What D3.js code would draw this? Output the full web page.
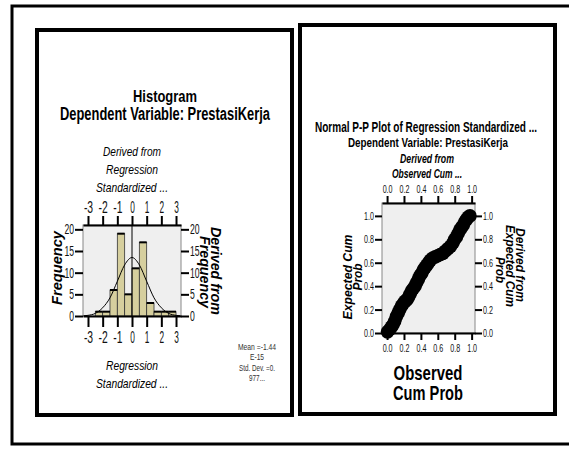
<!DOCTYPE html>
<html>
<head>
<meta charset="utf-8">
<script src="https://cdn.jsdelivr.net/npm/d3@7"></script>
<style>
  body { margin: 0; background: #fff; }
  .narrow { font-family: "Liberation Sans Narrow", "Liberation Sans", Arial, sans-serif; }
  .wide { font-family: "Liberation Sans", Arial, sans-serif; }
</style>
</head>
<body>
<div class="canvas"></div>
<script>
// histogram data (bin start, width 0.5)
const histBins = [-2.5, -2, -1.5, -1, -0.5, 0, 0.5, 1, 1.5, 2, 2.5];
const histCounts = [1, 1, 6, 19, 5, 11, 17, 3, 1, 1, 1];
// normal curve
const curveX = [-3.3, -3, -2.5, -2, -1.5, -1, -0.5, 0, 0.5, 1, 1.5, 2, 2.5, 3, 3.3];
const curveY = [0.05, 0.15, 0.6, 1.9, 4.2, 8, 11.8, 13.5, 11.8, 8, 4.2, 1.9, 0.6, 0.15, 0.05];
const histXTicks = [-3, -2, -1, 0, 1, 2, 3];
const histYTicks = [0, 5, 10, 15, 20];
const statLines = ['Mean =-1.44', 'E-15', 'Std. Dev. =0.', '977...'];
const statWidths = [38, 14, 36, 16];

// P-P plot data
const ppObserved = [0.005, 0.03, 0.05, 0.07, 0.09, 0.11, 0.13, 0.15, 0.17, 0.19, 0.21, 0.23, 0.25, 0.27, 0.29,
  0.31, 0.33, 0.35, 0.37, 0.39, 0.41, 0.43, 0.45, 0.47, 0.49, 0.51, 0.54, 0.57, 0.60, 0.63, 0.66,
  0.69, 0.72, 0.75, 0.78, 0.80, 0.82, 0.84, 0.86, 0.88, 0.90, 0.92, 0.94, 0.96, 0.98];
const ppExpected = [0.01, 0.03, 0.05, 0.07, 0.10, 0.14, 0.17, 0.20, 0.23, 0.25, 0.27, 0.28, 0.30, 0.33, 0.36,
  0.38, 0.40, 0.43, 0.46, 0.49, 0.51, 0.54, 0.56, 0.58, 0.60, 0.62, 0.64, 0.65, 0.66, 0.67, 0.68,
  0.70, 0.72, 0.74, 0.77, 0.80, 0.82, 0.85, 0.88, 0.90, 0.92, 0.95, 0.97, 0.99, 1.00];
const ppTicks = [0, 0.2, 0.4, 0.6, 0.8, 1.0];

const svg = d3.select('.canvas')
  .append('svg')
    .attr('width', 569)
    .attr('height', 449);

// frames
svg.append('rect')
  .attr('x', 12).attr('y', 6).attr('width', 600).attr('height', 438)
  .attr('fill', 'none').attr('stroke', '#000').attr('stroke-width', 3);
svg.append('rect')
  .attr('x', 37).attr('y', 30).attr('width', 255).attr('height', 385)
  .attr('fill', 'none').attr('stroke', '#000').attr('stroke-width', 4);
svg.append('rect')
  .attr('x', 300).attr('y', 25).attr('width', 255).attr('height', 389)
  .attr('fill', 'none').attr('stroke', '#000').attr('stroke-width', 4);

// tick labels squeezed to look like the condensed SPSS font
function styleAxis(g, size, charW) {
  g.selectAll('.tick line').attr('stroke', '#000').attr('stroke-width', 2);
  g.selectAll('.tick text')
    .attr('class', 'narrow')
    .attr('fill', '#111')
    .style('font-size', size + 'px')
    .attr('textLength', function() { return this.textContent.length * charW; })
    .attr('lengthAdjust', 'spacingAndGlyphs');
}

function addText(x, y, str, opts) {
  const t = svg.append('text')
    .attr('x', x).attr('y', y)
    .attr('text-anchor', opts.anchor || 'middle')
    .attr('class', opts.cls || 'narrow')
    .style('font-size', opts.size + 'px')
    .style('font-weight', opts.bold ? 'bold' : 'normal')
    .style('font-style', opts.italic ? 'italic' : 'normal')
    .attr('fill', opts.fill || '#000')
    .text(str);
  if (opts.len) t.attr('textLength', opts.len).attr('lengthAdjust', 'spacingAndGlyphs');
  if (opts.rotate) t.attr('transform', `rotate(${opts.rotate}, ${x}, ${y})`).attr('dy', '0.35em');
  return t;
}

const intFmt = d => String(d);   // plain hyphen minus like the original

// ---------- histogram ----------
const hx = d3.scaleLinear().domain([-3.34, 3.34]).range([83, 181]);
const hy = d3.scaleLinear().domain([0, 21]).range([316, 225]);

svg.append('rect')
  .attr('x', hx.range()[0]).attr('y', hy.range()[1])
  .attr('width', hx.range()[1] - hx.range()[0]).attr('height', hy.range()[0] - hy.range()[1])
  .attr('fill', '#efefef').attr('stroke', '#888').attr('stroke-width', 1);

svg.selectAll('rect.bar')
  .data(histBins)
  .enter()
  .append('rect')
    .attr('class', 'bar')
    .attr('x', d => hx(d))
    .attr('y', (d, i) => hy(histCounts[i]))
    .attr('width', d => hx(d + 0.5) - hx(d))
    .attr('height', (d, i) => hy(0) - hy(histCounts[i]))
    .attr('fill', '#d6cf9e')
    .attr('stroke', '#333')
    .attr('stroke-width', 0.8);

svg.selectAll('line.bartop')
  .data(histBins)
  .enter()
  .append('line')
    .attr('x1', d => hx(d)).attr('x2', d => hx(d + 0.5))
    .attr('y1', (d, i) => hy(histCounts[i])).attr('y2', (d, i) => hy(histCounts[i]))
    .attr('stroke', '#000').attr('stroke-width', 2);

// mean line
svg.append('line')
  .attr('x1', hx(0)).attr('x2', hx(0))
  .attr('y1', hy.range()[1]).attr('y2', hy(0))
  .attr('stroke', '#000').attr('stroke-width', 1);

const curve = d3.line()
  .x((d, i) => hx(d))
  .y((d, i) => hy(curveY[i]))
  .curve(d3.curveMonotoneX);
svg.append('path')
  .attr('d', curve(curveX))
  .attr('fill', 'none').attr('stroke', '#000').attr('stroke-width', 1);

const hxBottom = svg.append('g').attr('transform', `translate(0, ${hy(0)})`)
  .call(d3.axisBottom(hx).tickValues(histXTicks).tickSize(11).tickSizeOuter(0).tickPadding(4).tickFormat(intFmt));
hxBottom.select('.domain').attr('stroke', '#000').attr('stroke-width', 2);
styleAxis(hxBottom, 16.5, 4.6);

const hxTop = svg.append('g').attr('transform', `translate(0, ${hy.range()[1]})`)
  .call(d3.axisTop(hx).tickValues(histXTicks).tickSize(9).tickSizeOuter(0).tickPadding(3).tickFormat(intFmt));
hxTop.select('.domain').attr('stroke', '#000').attr('stroke-width', 2);
styleAxis(hxTop, 16, 4.6);

const hyLeft = svg.append('g').attr('transform', `translate(${hx.range()[0]}, 0)`)
  .call(d3.axisLeft(hy).tickValues(histYTicks).tickSize(8).tickSizeOuter(0).tickPadding(1).tickFormat(intFmt));
hyLeft.select('.domain').remove();
styleAxis(hyLeft, 14.5, 4.8);

const hyRight = svg.append('g').attr('transform', `translate(${hx.range()[1]}, 0)`)
  .call(d3.axisRight(hy).tickValues(histYTicks).tickSize(8).tickSizeOuter(0).tickPadding(1).tickFormat(intFmt));
hyRight.select('.domain').remove();
styleAxis(hyRight, 14.5, 4.8);

// histogram texts
addText(165, 102, 'Histogram', {size: 17, bold: true, len: 64});
addText(165, 120, 'Dependent Variable: PrestasiKerja', {size: 18, bold: true, len: 210});
addText(hx(0), 156, 'Derived from', {size: 13, italic: true, len: 58});
addText(hx(0), 174, 'Regression', {size: 13, italic: true, len: 52});
addText(hx(0), 192, 'Standardized ...', {size: 13, italic: true, len: 72});
addText(hx(0), 370, 'Regression', {size: 13, italic: true, len: 52});
addText(hx(0), 388, 'Standardized ...', {size: 13, italic: true, len: 72});
addText(57, 268, 'Frequency', {size: 14, bold: true, italic: true, cls: 'wide', rotate: -90, len: 74});
addText(216, 271, 'Derived from', {size: 14, bold: true, italic: true, cls: 'wide', rotate: 90, len: 88});
addText(205, 272, 'Frequency', {size: 14, bold: true, italic: true, cls: 'wide', rotate: 90, len: 72});

svg.selectAll('text.stat')
  .data(statLines)
  .enter()
  .append('text')
    .attr('class', 'narrow')
    .attr('x', 257)
    .attr('y', (d, i) => 350 + i * 10.3)
    .attr('text-anchor', 'middle')
    .style('font-size', '9px')
    .attr('fill', '#333')
    .attr('textLength', (d, i) => statWidths[i])
    .attr('lengthAdjust', 'spacingAndGlyphs')
    .text(d => d);

// ---------- P-P plot ----------
const px = d3.scaleLinear().domain([-0.06, 1.04]).range([382, 475]);
const py = d3.scaleLinear().domain([0, 1.11]).range([333, 203]);

svg.append('rect')
  .attr('x', px.range()[0]).attr('y', py.range()[1])
  .attr('width', px.range()[1] - px.range()[0]).attr('height', py.range()[0] - py.range()[1])
  .attr('fill', '#efefef').attr('stroke', '#888').attr('stroke-width', 1);

svg.selectAll('circle.pp')
  .data(ppObserved)
  .enter()
  .append('circle')
    .attr('class', 'pp')
    .attr('cx', d => px(d))
    .attr('cy', (d, i) => py(ppExpected[i]))
    .attr('r', 6.8)
    .attr('fill', '#000');

const fmt1 = d3.format('.1f');
const pxBottom = svg.append('g').attr('transform', `translate(0, ${py(0)})`)
  .call(d3.axisBottom(px).tickValues(ppTicks).tickSize(7).tickSizeOuter(0).tickPadding(4).tickFormat(fmt1));
pxBottom.select('.domain').attr('stroke', '#000').attr('stroke-width', 2);
styleAxis(pxBottom, 11.5, 3.3);

const pxTop = svg.append('g').attr('transform', `translate(0, ${py.range()[1]})`)
  .call(d3.axisTop(px).tickValues(ppTicks).tickSize(7).tickSizeOuter(0).tickPadding(3).tickFormat(fmt1));
pxTop.select('.domain').attr('stroke', '#000').attr('stroke-width', 2);
styleAxis(pxTop, 11.5, 3.3);

const pyLeft = svg.append('g').attr('transform', `translate(${px.range()[0]}, 0)`)
  .call(d3.axisLeft(py).tickValues(ppTicks).tickSize(7).tickSizeOuter(0).tickPadding(1).tickFormat(fmt1));
pyLeft.select('.domain').remove();
styleAxis(pyLeft, 11.5, 3.3);

const pyRight = svg.append('g').attr('transform', `translate(${px.range()[1]}, 0)`)
  .call(d3.axisRight(py).tickValues(ppTicks).tickSize(7).tickSizeOuter(0).tickPadding(1).tickFormat(fmt1));
pyRight.select('.domain').remove();
styleAxis(pyRight, 11.5, 3.3);

addText(426, 132, 'Normal P-P Plot of Regression Standardized ...', {size: 14, bold: true, len: 222});
addText(428, 147, 'Dependent Variable: PrestasiKerja', {size: 13, bold: true, len: 160});
addText(427, 163, 'Derived from', {size: 12, bold: true, italic: true, len: 54});
addText(427, 178, 'Observed Cum ...', {size: 12, bold: true, italic: true, len: 70});
addText(428, 380, 'Observed', {size: 21, bold: true, len: 69});
addText(428, 400, 'Cum Prob', {size: 21, bold: true, len: 70});
addText(348, 277, 'Expected Cum', {size: 12, bold: true, italic: true, cls: 'wide', rotate: -90, len: 85});
addText(358, 277, 'Prob', {size: 12, bold: true, italic: true, cls: 'wide', rotate: -90, len: 27});
addText(520, 265, 'Derived from', {size: 12, bold: true, italic: true, cls: 'wide', rotate: 90, len: 74});
addText(510, 266, 'Expected Cum', {size: 12, bold: true, italic: true, cls: 'wide', rotate: 90, len: 82});
addText(500, 270, 'Prob', {size: 12, bold: true, italic: true, cls: 'wide', rotate: 90, len: 26});
</script>
</body>
</html>
